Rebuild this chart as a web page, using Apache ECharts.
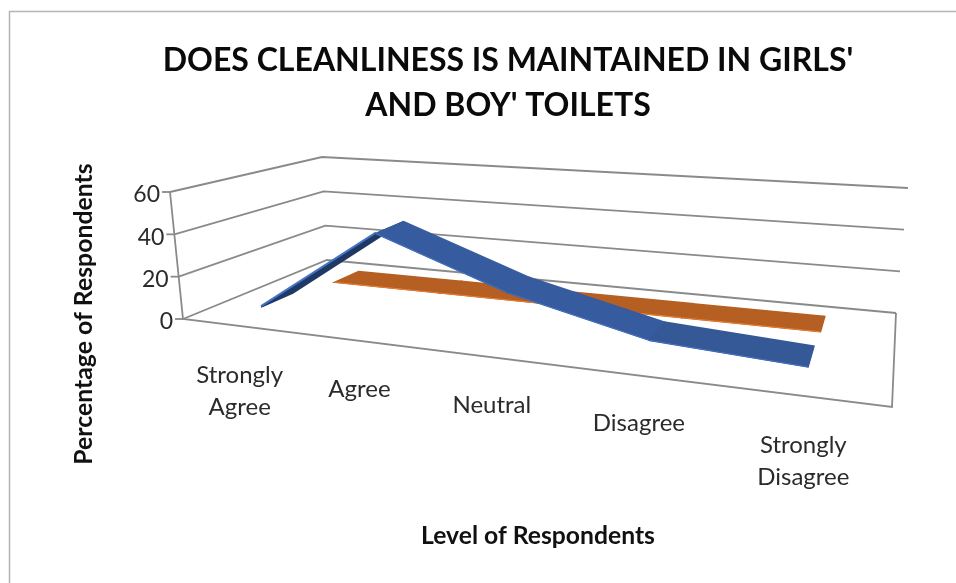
<!DOCTYPE html>
<html><head><meta charset="utf-8">
<style>html,body{margin:0;padding:0;background:#fff}#c{width:956px;height:583px}</style>
<script src="https://cdn.jsdelivr.net/npm/echarts@6/dist/echarts.min.js"></script>
</head><body><div id="c"></div>
<script>
var categories = ['Strongly\nAgree','Agree','Neutral','Disagree','Strongly\nDisagree'];
var blueValues = [4, 44, 23, 9, 5.5];
var orangeValues = [0, 0, 0, 0, 0];
var yTicks = [0, 20, 40, 60];
var titleText = "DOES CLEANLINESS IS MAINTAINED IN GIRLS'\nAND BOY' TOILETS";
var yName = 'Percentage of Respondents';
var xName = 'Level of Respondents';

// perspective frame of the 3D box
var FL=[183,319],FR=[892,407],BR=[896,313],BL=[327,260];
var topFL=[-13,-127],topFR=[18,-150],topBR=[12,-125],topBL=[-5,-103];
var depthBlue=[0.14,0.35], depthOrange=[0.66,0.86];
var dx1=FR[0]-BR[0],dx2=BL[0]-BR[0],sx=FL[0]-FR[0]+BR[0]-BL[0];
var dy1=FR[1]-BR[1],dy2=BL[1]-BR[1],sy=FL[1]-FR[1]+BR[1]-BL[1];
var den=dx1*dy2-dx2*dy1;
var g=(sx*dy2-dx2*sy)/den,h=(dx1*sy-sx*dy1)/den;
var a=FR[0]-FL[0]+g*FR[0],b=BL[0]-FL[0]+h*BL[0],c=FL[0];
var d=FR[1]-FL[1]+g*FR[1],e=BL[1]-FL[1]+h*BL[1],f=FL[1];
function proj(u,w,t){
  var q=g*u+h*w+1,x=(a*u+b*w+c)/q,y=(d*u+e*w+f)/q;
  function mix(i){return (1-u)*(1-w)*topFL[i]+u*(1-w)*topFR[i]+u*w*topBR[i]+(1-u)*w*topBL[i];}
  return [x+t*mix(0),y+t*mix(1)];
}
function norm(api,params,cat,val){
  var p=api.coord([cat,val]),s=params.coordSys;
  return [(p[0]-s.x)/s.width,(s.y+s.height-p[1])/s.height];
}
function ribbon(depth,color,edge,lastColor){
  return function(params,api){
    var i=api.value(0);
    if(i>=categories.length-1) return {type:'group',children:[]};
    var A=norm(api,params,i,api.value(1)),B=norm(api,params,i+1,api.value(2));
    var f0=proj(A[0],depth[0],A[1]),f1=proj(B[0],depth[0],B[1]),b1=proj(B[0],depth[1],B[1]),b0=proj(A[0],depth[1],A[1]);
    var under=(i===0 && B[1]>A[1]+0.3);
    var fill=under?'#1f3864':(i===categories.length-2&&lastColor?lastColor:color);
    return {type:'group',children:[
      {type:'polygon',shape:{points:[f0,f1,b1,b0]},style:{fill:fill,stroke:fill,lineWidth:1.5}},
      {type:'line',shape:{x1:f0[0],y1:f0[1]-(under?1:0),x2:f1[0],y2:f1[1]-(under?1:0)},style:{stroke:under?'#4472c4':edge,lineWidth:under?2:1}}
    ]};
  };
}
var gridStroke={stroke:'#8a8a8a',lineWidth:1.8};
function walls(params,api){
  var t=norm(api,params,0,api.value(0))[1];
  var fl=proj(0,0,t),bl=proj(0,1,t),br=proj(1,1,t);
  return {type:'group',children:[
    {type:'polyline',shape:{points:[fl,bl,br]},style:{fill:null,stroke:gridStroke.stroke,lineWidth:gridStroke.lineWidth}},
    {type:'line',shape:{x1:fl[0],y1:fl[1],x2:fl[0]-8,y2:fl[1]},style:gridStroke},
    {type:'text',x:fl[0]-10,y:fl[1]+3,style:{text:String(api.value(0)),fill:'#2b2b2b',font:'23px Lato',textAlign:'right',textVerticalAlign:'middle'}}
  ]};
}
function frame(params,api){
  var bot=norm(api,params,0,0)[1],tp=norm(api,params,0,60)[1];
  var fl=proj(0,0,bot),flt=proj(0,0,tp),fr=proj(1,0,bot),br=proj(1,1,bot);
  return {type:'group',children:[
    {type:'polyline',shape:{points:[flt,fl,fr,br]},style:{fill:null,stroke:gridStroke.stroke,lineWidth:gridStroke.lineWidth}}
  ]};
}
function catLabels(params,api){
  var i=api.value(0),n=norm(api,params,i,0),p=proj(n[0],0,0);
  var twoLines=categories[i].indexOf('\n')>=0;
  return {type:'text',x:p[0]+1,y:p[1]+(twoLines?65:48),style:{text:categories[i],fill:'#2b2b2b',font:'24px Lato',lineHeight:32,textAlign:'center',textVerticalAlign:'middle'}};
}
var bluePairs=blueValues.map(function(v,i){return [i,v,i<blueValues.length-1?blueValues[i+1]:v];});
var orangePairs=orangeValues.map(function(v,i){return [i,v,i<orangeValues.length-1?orangeValues[i+1]:v];});
var chart=echarts.init(document.getElementById('c'),null,{renderer:'canvas'});
chart.setOption({
  animation:false,
  backgroundColor:'#fff',
  title:[
    {text:titleText,left:503,top:33,textAlign:'center',textStyle:{fontFamily:'Lato',fontWeight:'bold',fontSize:32,color:'#0a0a0a',lineHeight:45}},
    {text:xName,left:533,top:519,textAlign:'center',textStyle:{fontFamily:'Lato',fontWeight:'bold',fontSize:24.7,color:'#111'}}
  ],
  graphic:[
    {type:'polyline',silent:true,shape:{points:[[9.5,590],[9.5,11.5],[960,11.5]]},style:{fill:null,stroke:'#b4b4b4',lineWidth:1.5}},
    {type:'text',silent:true,x:84,y:314,rotation:Math.PI/2,style:{text:yName,font:'bold 24.8px Lato',fill:'#111',textAlign:'center',textVerticalAlign:'middle'}}
  ],
  grid:{left:100,top:100,width:500,height:300,show:false},
  xAxis:{type:'category',data:categories,show:false},
  yAxis:{type:'value',min:0,max:60,interval:20,show:false},
  series:[
    {type:'custom',name:'walls',data:yTicks.map(function(v){return [v];}),renderItem:walls,encode:{x:[],y:[]},silent:true,z:1,clip:false},
    {type:'custom',name:'frame',data:[[0]],renderItem:frame,silent:true,z:1,clip:false},
    {type:'custom',name:'labels',data:categories.map(function(c,i){return [i];}),renderItem:catLabels,silent:true,z:1,clip:false},
    {type:'custom',name:'Series 2',data:orangePairs,renderItem:ribbon(depthOrange,'#b55f22','#ed7d31'),z:2,clip:false},
    {type:'custom',name:'Series 1',data:bluePairs,renderItem:ribbon(depthBlue,'#365b9f','#4472c4','#355896'),z:3,clip:false}
  ]
});
</script></body></html>
